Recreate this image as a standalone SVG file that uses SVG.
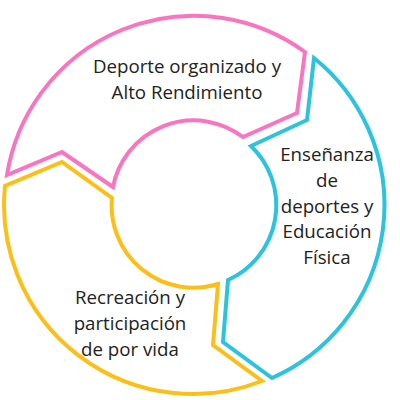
<svg xmlns="http://www.w3.org/2000/svg" width="400" height="400" viewBox="0 0 400 400">
<style>
.seg{fill:none;stroke-width:4;stroke-linejoin:miter}
.lbl{font-family:"Open Sans","Noto Sans",sans-serif;font-size:18.7px;fill:#222;text-anchor:middle}
</style>
<rect width="400" height="400" fill="#fff"/>
<g id="connectors"></g>
<g id="node-pink">
<path class="seg" stroke="#F975C0" d="M7,175 A189,189 0 0 1 305,52 L297,113 L243,137 A82,82 0 0 0 113,187 L62,152 Z"/>
<text class="lbl" x="187" y="73">Deporte organizado y</text>
<text class="lbl" x="187" y="99">Alto Rendimiento</text>
</g>
<g id="node-cyan">
<path class="seg" stroke="#2CC3DF" d="M314,58 A189,189 0 0 1 272,378 L223,342 L228,280 A82,82 0 0 0 251,146 L307,120 Z"/>
<text class="lbl" x="327" y="161">Enseñanza</text>
<text class="lbl" x="327" y="187">de</text>
<text class="lbl" x="327" y="213">deportes y</text>
<text class="lbl" x="327" y="238">Educación</text>
<text class="lbl" x="327" y="264">Física</text>
</g>
<g id="node-yellow">
<path class="seg" stroke="#FBBF17" d="M262,381 A189,189 0 0 1 5,186 L62,162 L112,198 A82,82 0 0 0 218,284 L213,345 Z"/>
<text class="lbl" x="130" y="304">Recreación y</text>
<text class="lbl" x="130" y="330">participación</text>
<text class="lbl" x="130" y="356">de por vida</text>
</g>
</svg>
